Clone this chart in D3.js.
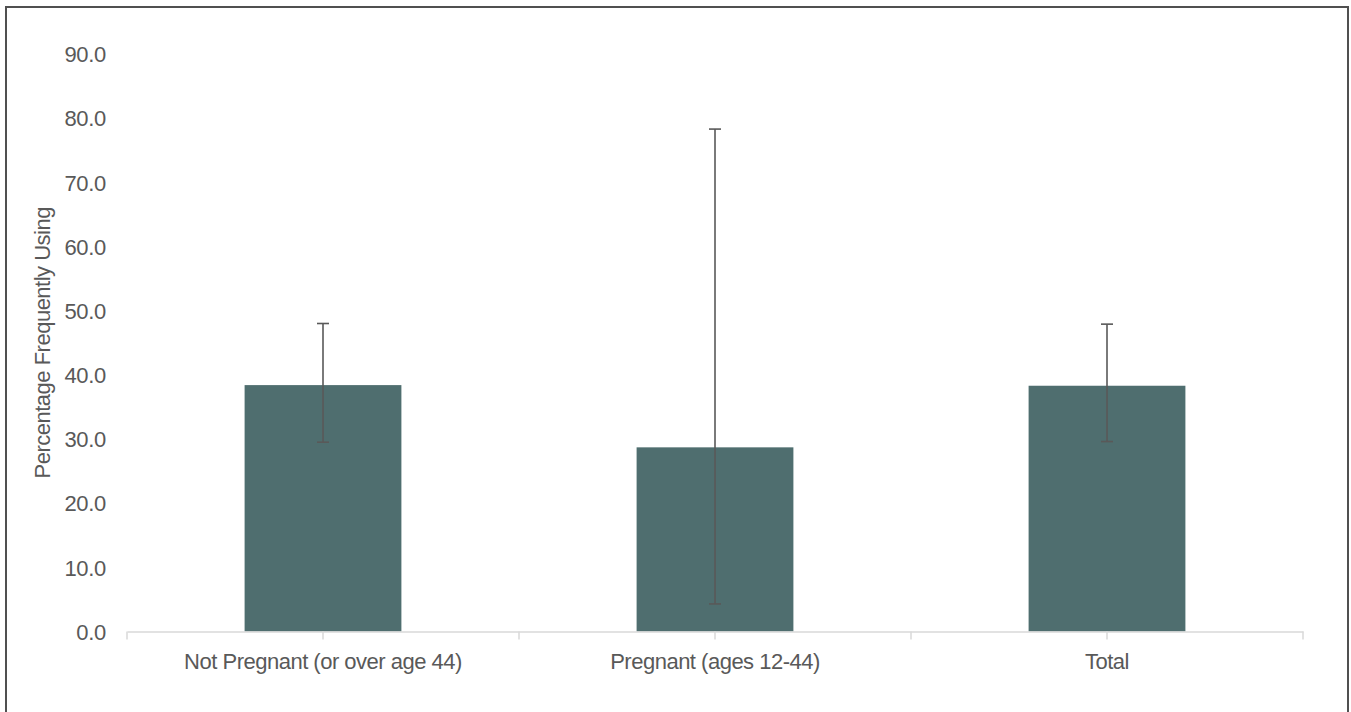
<!DOCTYPE html>
<html>
<head>
<meta charset="utf-8">
<script src="https://cdn.jsdelivr.net/npm/d3@7"></script>
<style>
  html, body { margin: 0; padding: 0; background: #fff; overflow: hidden; }
  svg { display: block; }
  text { font-family: "Liberation Sans", Arial, sans-serif; fill: #595959; }
</style>
</head>
<body>
<svg id="chart" width="1351" height="712"></svg>
<script>
const categories = ["Not Pregnant (or over age 44)", "Pregnant (ages 12-44)", "Total"];
const values = [38.4, 28.7, 38.3];
const errLow = [29.5, 4.3, 29.6];
const errHigh = [48.0, 78.3, 47.9];
const yTicks = [0, 10, 20, 30, 40, 50, 60, 70, 80, 90];
const yTitle = "Percentage Frequently Using";

const svg = d3.select("#chart");
const plot = { left: 127, right: 1303, top: 54, bottom: 631.5 };
const FONT = '"Liberation Sans", Arial, sans-serif';

// outer frame
svg.append("rect")
  .attr("x", 6).attr("y", 7)
  .attr("width", 1342).attr("height", 800)
  .attr("fill", "none").attr("stroke", "#505050").attr("stroke-width", 2);

const x = d3.scaleBand()
  .domain(categories)
  .range([plot.left, plot.right])
  .paddingInner(0.6).paddingOuter(0.3);

const y = d3.scaleLinear().domain([0, 90]).range([plot.bottom, plot.top]);

// y tick labels
const yAxis = d3.axisLeft(y).tickValues(yTicks).tickFormat(d3.format(".1f")).tickSize(0).tickPadding(0);
const gy = svg.append("g").attr("transform", "translate(106,0)").call(yAxis);
gy.select(".domain").remove();
gy.selectAll("text")
  .attr("font-size", 22).attr("fill", "#595959")
  .style("font-family", FONT)
  .attr("letter-spacing", "-0.3px")
  .attr("x", 0).attr("dy", "0.35em");

// y title
svg.append("text")
  .attr("transform", `translate(50,${(plot.top + plot.bottom) / 2}) rotate(-90)`)
  .attr("text-anchor", "middle")
  .attr("font-size", 22)
  .attr("letter-spacing", "-0.5px")
  .text(yTitle);

// bars
svg.append("g").selectAll("rect")
  .data(categories)
  .join("rect")
  .attr("x", d => x(d))
  .attr("width", x.bandwidth())
  .attr("y", (d, i) => y(values[i]))
  .attr("height", (d, i) => y(0) - y(values[i]))
  .attr("fill", "#4f6e6f");

// x axis
const step = x.step();
const gx = svg.append("g").attr("transform", `translate(0,${plot.bottom})`);
const xAxis = d3.axisBottom(x).tickSize(8).tickSizeOuter(0).tickPadding(14);
gx.call(xAxis);
gx.select(".domain").attr("stroke", "#d9d9d9").attr("stroke-width", 1.5);
gx.selectAll(".tick line").attr("stroke", "#d9d9d9").attr("stroke-width", 1.5);
gx.selectAll(".tick text")
  .attr("font-size", 22).attr("fill", "#595959")
  .style("font-family", FONT)
  .attr("letter-spacing", "-0.5px");
// boundary ticks between categories
const bounds = d3.range(categories.length + 1).map(i => plot.left + i * step);
gx.selectAll(".btick").data(bounds).join("line")
  .attr("class", "btick")
  .attr("x1", d => d).attr("x2", d => d)
  .attr("y1", 0).attr("y2", 8)
  .attr("stroke", "#d9d9d9").attr("stroke-width", 1.5);

// error bars
const eg = svg.append("g").attr("stroke", "#595959").attr("stroke-width", 1.6).attr("fill", "none");
categories.forEach((c, i) => {
  const cx = x(c) + x.bandwidth() / 2;
  eg.append("line").attr("x1", cx).attr("x2", cx).attr("y1", y(errLow[i])).attr("y2", y(errHigh[i]));
  eg.append("line").attr("x1", cx - 6).attr("x2", cx + 6).attr("y1", y(errLow[i])).attr("y2", y(errLow[i]));
  eg.append("line").attr("x1", cx - 6).attr("x2", cx + 6).attr("y1", y(errHigh[i])).attr("y2", y(errHigh[i]));
});
</script>
</body>
</html>
